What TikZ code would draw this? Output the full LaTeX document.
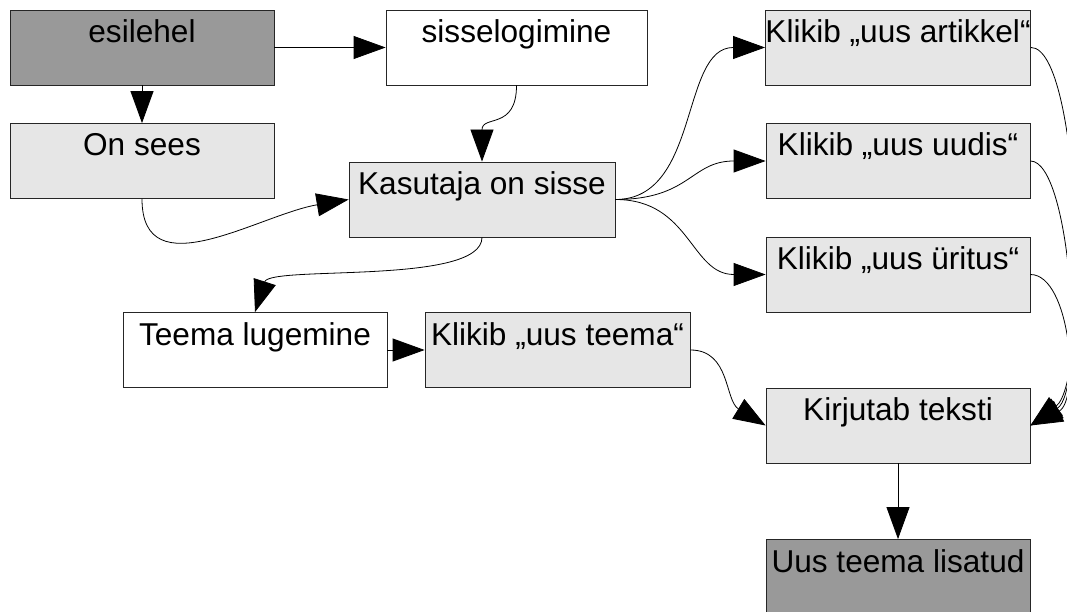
\documentclass[tikz,border=0pt]{standalone}
\usepackage{fontspec}
\setmainfont{Liberation Sans}
\usetikzlibrary{arrows.meta}
\definecolor{darkfill}{HTML}{999999}
\definecolor{lightfill}{HTML}{E6E6E6}
\begin{document}
\begin{tikzpicture}[x=1pt,y=-1pt,
  box/.style={draw=black!85, line width=0.8pt, inner sep=0pt,
    text height=32.5pt, text depth=42.5pt, minimum width=264pt,
    font=\fontsize{31.6}{36}\selectfont},
  startbox/.style={box, fill=darkfill},
  stepbox/.style={box, fill=lightfill},
  plainbox/.style={box, fill=white},
  conn/.style={draw=black, line width=0.8pt, -{Triangle[length=32pt,width=23pt]}}
]
\useasboundingbox (0,0) rectangle (1067,612);
\node[startbox] (esilehel) at (142,47.5) {esilehel};
\node[plainbox, minimum width=261pt] (sisse) at (516.5,47.5) {sisselogimine};
\node[stepbox] (onsees) at (142,161) {On sees};
\node[stepbox, minimum width=266pt] (kasutaja) at (482,199.5) {Kasutaja on sisse};
\node[stepbox] (artikkel) at (898,47.5) {Klikib „uus artikkel“};
\node[stepbox] (uudis) at (898,161) {Klikib „uus uudis“};
\node[stepbox] (uritus) at (898,274.5) {Klikib „uus üritus“};
\node[plainbox] (teema) at (255,350) {Teema lugemine};
\node[stepbox, minimum width=265pt] (uusteema) at (557.5,350) {Klikib „uus teema“};
\node[stepbox] (kirjutab) at (898,425.5) {Kirjutab teksti};
\node[startbox] (lisatud) at (898,577) {Uus teema lisatud};

\draw[conn] (esilehel.south) -- (onsees.north);
\draw[conn] (esilehel.east) -- (sisse.west);
\draw[conn] (sisse.south) .. controls +(0,45) and +(0,-47) .. (kasutaja.north);
\draw[conn] (onsees.south) .. controls +(0,91) and +(-89,15) .. (kasutaja.west);
\draw[conn] (kasutaja.south) .. controls +(0,48) and +(15,-47) .. (teema.north);
\draw[conn] (teema.east) -- (uusteema.west);
\draw[conn] (kasutaja.east) .. controls +(85,0) and +(-85,0) .. (artikkel.west);
\draw[conn] (kasutaja.east) .. controls +(75,0) and +(-75,0) .. (uudis.west);
\draw[conn] (kasutaja.east) .. controls +(75,0) and +(-75,0) .. (uritus.west);
\draw[conn] (uusteema.east) .. controls +(40,0) and +(-41,-25) .. (kirjutab.west);
\draw[conn] (artikkel.east) .. controls +(50,0) and +(60,-45) .. (kirjutab.east);
\draw[conn] (uudis.east) .. controls +(40,0) and +(55,-35) .. (kirjutab.east);
\draw[conn] (uritus.east) .. controls +(40,0) and +(50,-25) .. (kirjutab.east);
\draw[conn] (kirjutab.south) -- (lisatud.north);
\end{tikzpicture}
\end{document}
